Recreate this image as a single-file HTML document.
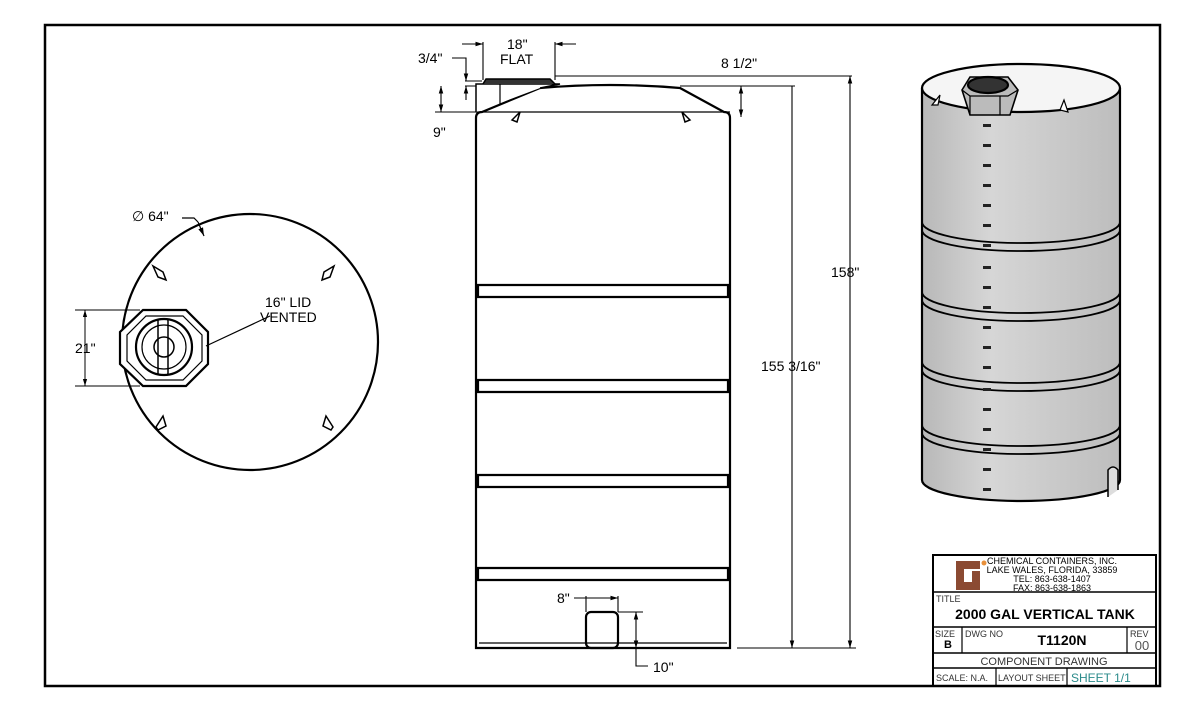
<!DOCTYPE html>
<html><head><meta charset="utf-8"><style>
body{margin:0;background:#fff;}
svg{display:block;font-family:"Liberation Sans",sans-serif;}
</style></head><body>
<svg width="1200" height="709" viewBox="0 0 1200 709" xmlns="http://www.w3.org/2000/svg">
<defs>
<linearGradient id="g" x1="0" x2="1">
<stop offset="0" stop-color="#b8b8b8"/><stop offset="0.35" stop-color="#d6d6d6"/><stop offset="1" stop-color="#bdbdbd"/>
</linearGradient>
<marker id="a" viewBox="0 0 10 10" refX="10" refY="5" markerWidth="7" markerHeight="7" orient="auto-start-reverse"><path d="M0,2L10,5L0,8z" fill="#000"/></marker>
</defs>
<rect x="45" y="25" width="1115" height="661" fill="none" stroke="#000" stroke-width="2.5"/>

<!-- TOP VIEW -->
<g stroke="#000" fill="none" stroke-width="2.2">
<circle cx="250" cy="342" r="128"/>
<polygon points="143,310 186,310 208,332 208,364 186,386 143,386 120,364 120,332" fill="#fff"/>
<polygon points="146,316 183,316 202,335 202,361 183,380 146,380 127,361 127,335" stroke-width="1.2"/>
<circle cx="164" cy="347" r="28"/>
<circle cx="164" cy="347" r="22" stroke-width="1.2"/>
<circle cx="164" cy="347" r="10" stroke-width="1.5"/>
<rect x="158" y="319" width="10" height="56" rx="2" stroke-width="1.5"/>
<path d="M153,266 l10,6 l3,8 l-8,-3z M334,266 l-10,6 l-2,8 l8,-3z M163,416 l3,10 l-8,4 l-2,-3z M326,416 l-3,10 l8,4 l2,-3z" stroke-width="1.5" fill="#fff"/>
<path d="M198,222 l6,14" stroke-width="1.2" marker-end="url(#a)"/>
<path d="M182,218 h12 l4,4" stroke-width="1.2"/>
<path d="M270,316 L206,346" stroke-width="1.2"/>
<path d="M75,310 h65 M75,386 h65" stroke-width="1"/>
<path d="M85,310 V386" stroke-width="1" marker-start="url(#a)" marker-end="url(#a)"/>
</g>
<g font-size="14" fill="#000">
<text x="132" y="221">∅ 64"</text>
<text x="265" y="307">16" LID</text>
<text x="260" y="322">VENTED</text>
<text x="75" y="353">21"</text>
</g>

<!-- FRONT VIEW -->
<g stroke="#000" fill="none" stroke-width="2.2">
<path d="M476,648 V118 Q476,112 482,112 L540,88 Q610,82 680,88 L724,112 Q730,112 730,118 V648 Z" fill="#fff"/>
<path d="M476,112 h254" stroke-width="1.2"/>
<path d="M476,112 V84 H560 L540,88" fill="#fff" stroke-width="1.5"/>
<path d="M500,84 V105" stroke-width="1.2"/>
<path d="M483,84 L486,79 H550 L555,84" fill="#333" stroke-width="1.5"/>
<path d="M478,285 H728 V297 H478Z M478,380 H728 V392 H478Z M478,475 H728 V487 H478Z M478,568 H728 V580 H478Z" fill="#fff"/>
<path d="M479,643 H727" stroke-width="1.2"/>
<rect x="586" y="612" width="32" height="36" rx="5"/>
<path d="M512,120 l8,-8 l-3,10z M690,120 l-8,-8 l3,10z" stroke-width="1.5"/>
</g>
<g stroke="#000" fill="none" stroke-width="1.1">
<path d="M555,76 H852 M680,86 H795 M737,648 H856 M465,86 H476 M435,112 H476 M465,81 H482"/>
<path d="M850,76 V648" marker-start="url(#a)" marker-end="url(#a)"/>
<path d="M792,86 V648" marker-end="url(#a)"/>
<path d="M741,86 V117" marker-start="url(#a)" marker-end="url(#a)"/>
<path d="M441,86 V112" marker-start="url(#a)" marker-end="url(#a)"/>
<path d="M483,42 V80 M555,42 V80"/>
<path d="M462,44 H483" marker-end="url(#a)"/>
<path d="M576,44 H555" marker-end="url(#a)"/>
<path d="M452,58 H466 V81" marker-end="url(#a)"/>
<path d="M466,100 V86" marker-end="url(#a)"/>
<path d="M586,596 V612 M618,596 V612 M618,612 H643"/>
<path d="M574,598 H586 M586,598 H618" marker-end="url(#a)"/>
<path d="M636,612 V648" marker-start="url(#a)" marker-end="url(#a)"/>
<path d="M636,648 V666 H648"/>
</g>
<g font-size="14" fill="#000">
<text x="507" y="49">18"</text>
<text x="500" y="64">FLAT</text>
<text x="418" y="63">3/4"</text>
<text x="433" y="137">9"</text>
<text x="721" y="68">8 1/2"</text>
<text x="831" y="277">158"</text>
<text x="761" y="371">155 3/16"</text>
<text x="557" y="603">8"</text>
<text x="653" y="672">10"</text>
</g>

<!-- ISO VIEW -->
<g stroke="#000" stroke-width="2.2">
<path d="M922,88 V480 A99,21 0 0 0 1120,480 V88" fill="url(#g)"/>
<ellipse cx="1021" cy="88" rx="99" ry="24" fill="#f5f5f5"/>
<g fill="none" stroke-width="1.8">
<path d="M922,222 A99,21 0 0 0 1120,222 M922,230 A99,21 0 0 0 1120,230"/>
<path d="M922,292 A99,21 0 0 0 1120,292 M922,300 A99,21 0 0 0 1120,300"/>
<path d="M922,362 A99,21 0 0 0 1120,362 M922,370 A99,21 0 0 0 1120,370"/>
<path d="M922,425 A99,21 0 0 0 1120,425 M922,433 A99,21 0 0 0 1120,433"/>
</g>
<path d="M962,90 L970,77 H1008 L1018,90 L1010,115 H970 Z" fill="#bbb" stroke-width="1.6"/>
<path d="M962,90 L970,96 H1008 L1018,90 M970,96 V115 M1000,96 V115" fill="none" stroke-width="1.2"/>
<ellipse cx="988" cy="85" rx="20" ry="8" fill="#333"/>
<path d="M1108,497 V470 q5,-6 10,0 V490" fill="#ddd" stroke-width="1.5"/>
<path d="M932,105 l8,-10 l-2,10z M1060,110 l4,-10 l4,12z" fill="#fff" stroke-width="1.2"/>
</g>
<g fill="#222">
<rect x="983" y="124" width="8" height="3"/><rect x="983" y="144" width="8" height="3"/><rect x="983" y="164" width="8" height="3"/><rect x="983" y="184" width="8" height="3"/><rect x="983" y="204" width="8" height="3"/><rect x="983" y="224" width="8" height="3"/><rect x="983" y="244" width="8" height="3"/><rect x="983" y="266" width="8" height="3"/><rect x="983" y="286" width="8" height="3"/><rect x="983" y="306" width="8" height="3"/><rect x="983" y="326" width="8" height="3"/><rect x="983" y="346" width="8" height="3"/><rect x="983" y="366" width="8" height="3"/><rect x="983" y="388" width="8" height="3"/><rect x="983" y="408" width="8" height="3"/><rect x="983" y="428" width="8" height="3"/><rect x="983" y="448" width="8" height="3"/><rect x="983" y="468" width="8" height="3"/><rect x="983" y="488" width="8" height="3"/>
</g>

<!-- TITLE BLOCK -->
<g stroke="#000" fill="none">
<rect x="933" y="555" width="223" height="131" stroke-width="2"/>
<path d="M933,592 H1156 M933,627 H1156 M933,653 H1156 M933,668 H1156" stroke-width="1.5"/>
<path d="M962,627 V653 M1127,627 V653 M996,668 V686 M1067,668 V686" stroke-width="1.2"/>
</g>
<path d="M956,561 h24 v8 h-16 v13 h16 v8 h-24z" fill="#8b4a32"/>
<rect x="972" y="571" width="8" height="11" fill="#8b4a32"/>
<circle cx="984" cy="563" r="2.5" fill="#e8903a"/>
<g fill="#000" text-anchor="middle">
<text x="1052" y="564" font-size="9">CHEMICAL CONTAINERS, INC.</text>
<text x="1052" y="573" font-size="9">LAKE WALES, FLORIDA, 33859</text>
<text x="1052" y="582" font-size="9">TEL: 863-638-1407</text>
<text x="1052" y="591" font-size="9">FAX: 863-638-1863</text>
<text x="1045" y="619" font-size="14" font-weight="bold">2000 GAL VERTICAL TANK</text>
<text x="1062" y="645" font-size="14" font-weight="bold">T1120N</text>
<text x="948" y="648" font-size="11" font-weight="bold">B</text>
<text x="1142" y="650" font-size="13" fill="#555">00</text>
<text x="1044" y="665" font-size="11" fill="#333">COMPONENT DRAWING</text>
</g>
<g fill="#333" font-size="9">
<text x="936" y="602">TITLE</text>
<text x="935" y="637">SIZE</text>
<text x="965" y="637">DWG NO</text>
<text x="1130" y="637">REV</text>
<text x="936" y="681">SCALE: N.A.</text>
<text x="998" y="681">LAYOUT SHEET</text>
</g>
<text x="1071" y="682" font-size="12" fill="#2a8a8a">SHEET 1/1</text>
</svg>
</body></html>
